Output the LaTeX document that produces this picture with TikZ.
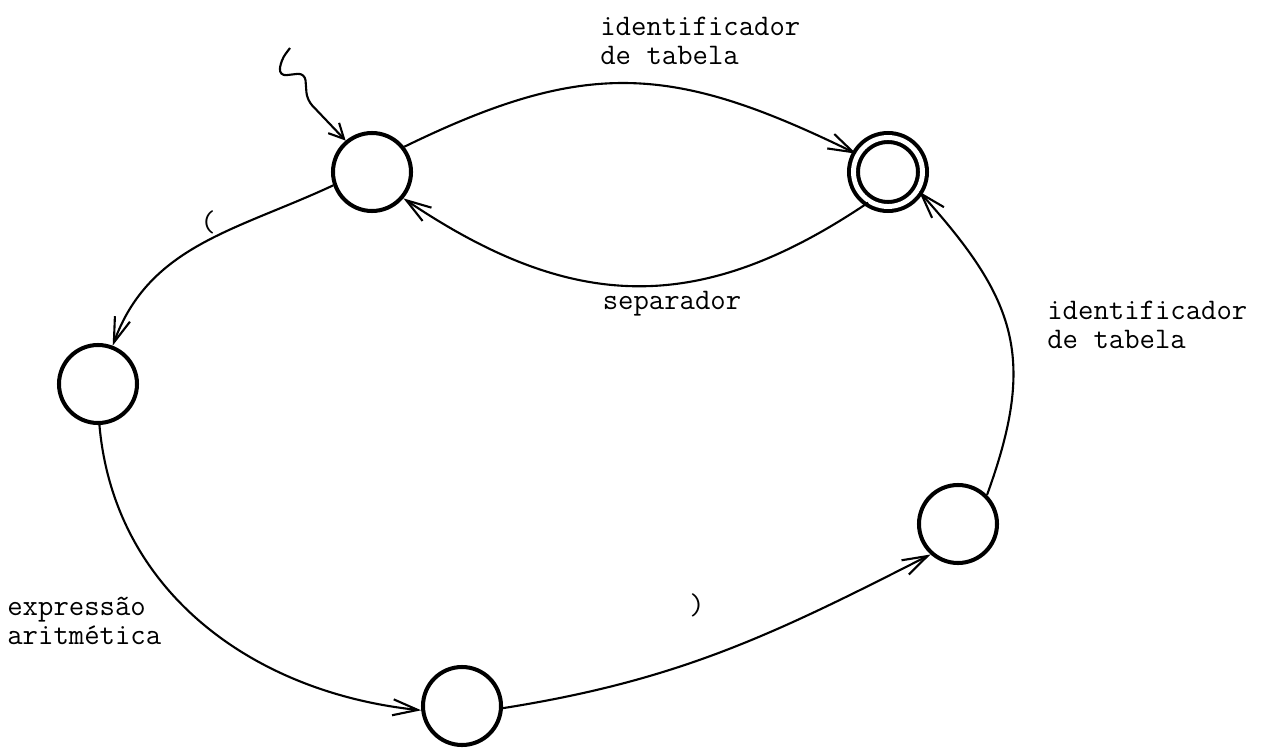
\documentclass[tikz,border=0pt]{standalone}
\usepackage{fontspec}
\usepackage{tikz}
\usetikzlibrary{arrows.meta}

\begin{document}
\begin{tikzpicture}[scale=1.0]
      \tikzset{st/.style={circle,draw=black,line width=2.3pt,minimum size=15.6mm,inner sep=0pt}}
      \tikzset{acc/.style={circle,draw=black,double,line width=2.3pt,double distance=2.8pt,minimum size=13.8mm,inner sep=0pt}}
      \tikzset{lbl/.style={font=\ttfamily\fontsize{17}{16.8}\selectfont,align=left,inner sep=0pt}}
      \tikzset{trans/.style={line width=1.2pt,-{Straight Barb[length=5mm,width=3.2mm]}}}

      \useasboundingbox (0,0) rectangle (25.3,-14.98);

      \node[st] (s1) at (7.44,-3.44) {};
      \node[acc] (s2) [right of=s1,xshift=93.2mm] {};
      \node[st] (s3) [below of=s1,xshift=-54.8mm,yshift=-32.4mm] {};
      \node[st] (s4) [below of=s3,xshift=72.8mm,yshift=-54.4mm] {};
      \node[st] (s5) [right of=s4,xshift=89.2mm,yshift=36.4mm] {};

      \node[lbl] (ltab1) [above of=s1,anchor=west,xshift=45.6mm,yshift=16.2mm] {identificador\\de tabela};
      \node[lbl] (lsep) [below of=s2,xshift=-43.2mm,yshift=-16.4mm] {separador};
      \node[lbl] (ltab2) [below of=s2,anchor=west,xshift=31.8mm,yshift=-20.6mm] {identificador\\de tabela};
      \node[lbl] (lopen) [below of=s1,xshift=-32.8mm] {(};
      \node[lbl] (lexpr) [below of=s3,anchor=west,xshift=-18.2mm,yshift=-37.4mm] {express\~ao\\aritm\'etica};
      \node[lbl] (lclose) [above of=s4,xshift=47mm,yshift=10.2mm] {)};

      % start arrow
      \coordinate (init) at ([xshift=-16.4mm,yshift=24.8mm]s1.center);
      \draw[trans,-{Straight Barb[length=3mm,width=3mm]},rounded corners=1.5mm] (init) -- ++(-0.18,-0.24) -- ++(-0.04,-0.32) -- ++(0.52,0.06) -- ++(0.04,-0.54) -- (s1.130);

      \draw[trans] (s1.38) to[out=26,in=154,looseness=1.15] (s2.150);
      \draw[trans] (s2.-123) to[out=-146,in=-34,looseness=1.12] (s1.-40);
      \draw[trans] (s1.-161) to[out=-155,in=70] (s3.69);
      \draw[trans] (s3.-88) to[out=-85,in=174] (s4.186);
      \draw[trans] (s4.-3) to[out=9,in=207] (s5.228);
      \draw[trans] (s5.45) to[out=70,in=-48,looseness=1.2] (s2.-32);

    \end{tikzpicture}
\end{document}
